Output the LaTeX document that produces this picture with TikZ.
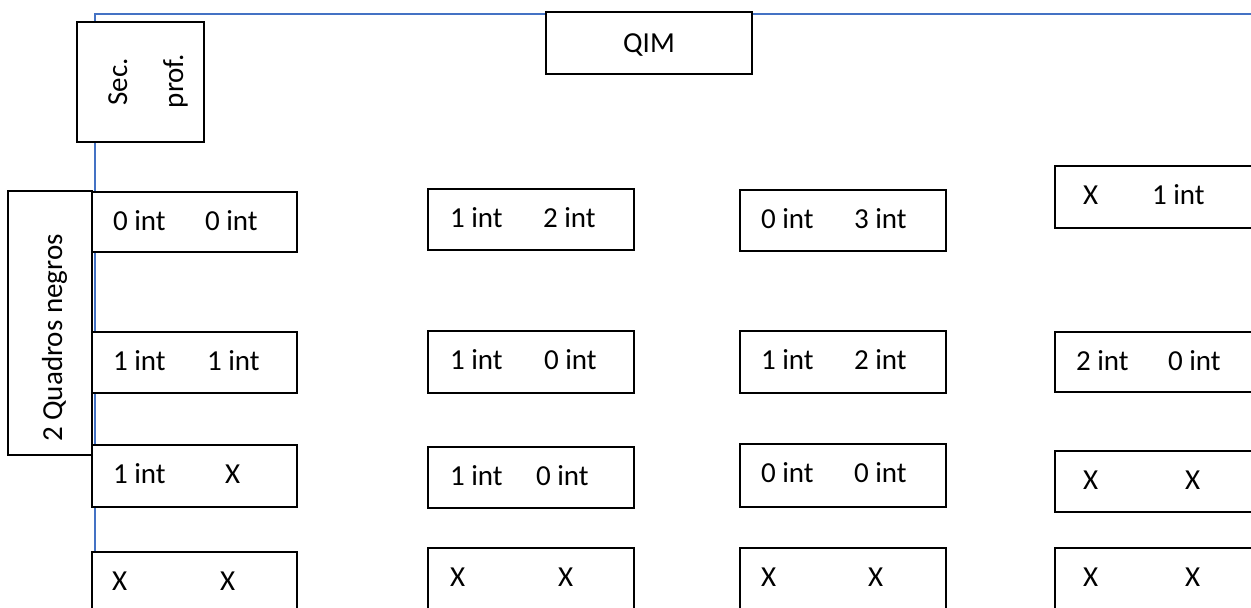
\documentclass[tikz,border=0pt]{standalone}
\usepackage{fontspec}
\setmainfont{Carlito}
\definecolor{linkblue}{HTML}{4472C4}
% one table cell: name, x1, y1, x2, y2, x of first text, first text, x of second text, second text
\newcommand\cellpair[9]{%
  \node[cellbox, minimum width={(#4-#2)*1pt}, minimum height={(#5-#3)*1pt}]
    (#1) at ({(#2+#4)/2},{(#3+#5)/2}) {};
  \node[lbl] (#1a) at (#6,#3+38) {#7};
  \node[lbl] (#1b) at (#8,#3+38) {#9};
}
\begin{document}
\begin{tikzpicture}[x=1pt, y=-1pt,
  every node/.style={font=\fontsize{29}{34}\selectfont},
  cellbox/.style={draw=black, fill=white, line width=1.6pt, rectangle, inner sep=0pt, outer sep=0pt},
  lbl/.style={anchor=base west, inner sep=0pt, outer sep=0pt},
  vlbl/.style={anchor=base, rotate=90, inner sep=0pt, outer sep=0pt},
  bus/.style={draw=linkblue, line width=1.5pt}]
\useasboundingbox (0,0) rectangle (1251,608);
\clip (0,0) rectangle (1251,608);

% blue frame lines behind the boxes
\coordinate (corner) at (95,14);
\coordinate (rightend) at (1260,14);
\coordinate (bottomend) at (95,600);
\draw[bus] (rightend) -- (corner) -- (bottomend);

% header boxes
\node[cellbox, minimum width=206pt, minimum height=62pt] (qim) at (649,43) {};
\node[anchor=base, inner sep=0pt] (qimtxt) at (649,52) {QIM};
\node[cellbox, minimum width=127pt, minimum height=120pt] (sec) at (140.5,82) {};
\node[vlbl] (sectxt) at (127,82) {Sec.};
\node[vlbl] (proftxt) at (183,81) {prof.};
\node[cellbox, minimum width=84pt, minimum height=264pt] (quad) at (50,323) {};
\node[vlbl] (quadtxt) at (62,338) {2 Quadros negros};

% column 1
\cellpair{a1}{92}{192}{297}{252}{113}{0 int}{205}{0 int}
\cellpair{a2}{92}{332}{297}{393}{113}{1 int}{207}{1 int}
\cellpair{a3}{92}{445}{297}{507}{113}{1 int}{225}{X}
\cellpair{a4}{92}{552}{297}{640}{112}{X}{220}{X}

% column 2
\cellpair{b1}{428}{189}{634}{250}{450}{1 int}{543}{2 int}
\cellpair{b2}{428}{331}{634}{393}{450}{1 int}{544}{0 int}
\cellpair{b3}{428}{447}{634}{508}{450}{1 int}{536}{0 int}
\cellpair{b4}{428}{548}{634}{640}{450}{X}{558}{X}

% column 3
\cellpair{c1}{740}{190}{946}{251}{761}{0 int}{854}{3 int}
\cellpair{c2}{740}{331}{946}{393}{761}{1 int}{854}{2 int}
\cellpair{c3}{740}{444}{946}{507}{761}{0 int}{854}{0 int}
\cellpair{c4}{740}{548}{946}{640}{761}{X}{868}{X}

% column 4
\cellpair{d1}{1055}{166}{1262}{228}{1083}{X}{1152}{1 int}
\cellpair{d2}{1055}{332}{1262}{392}{1076}{2 int}{1168}{0 int}
\cellpair{d3}{1055}{451}{1262}{512}{1083}{X}{1185}{X}
\cellpair{d4}{1055}{548}{1262}{640}{1083}{X}{1185}{X}
\end{tikzpicture}
\end{document}
